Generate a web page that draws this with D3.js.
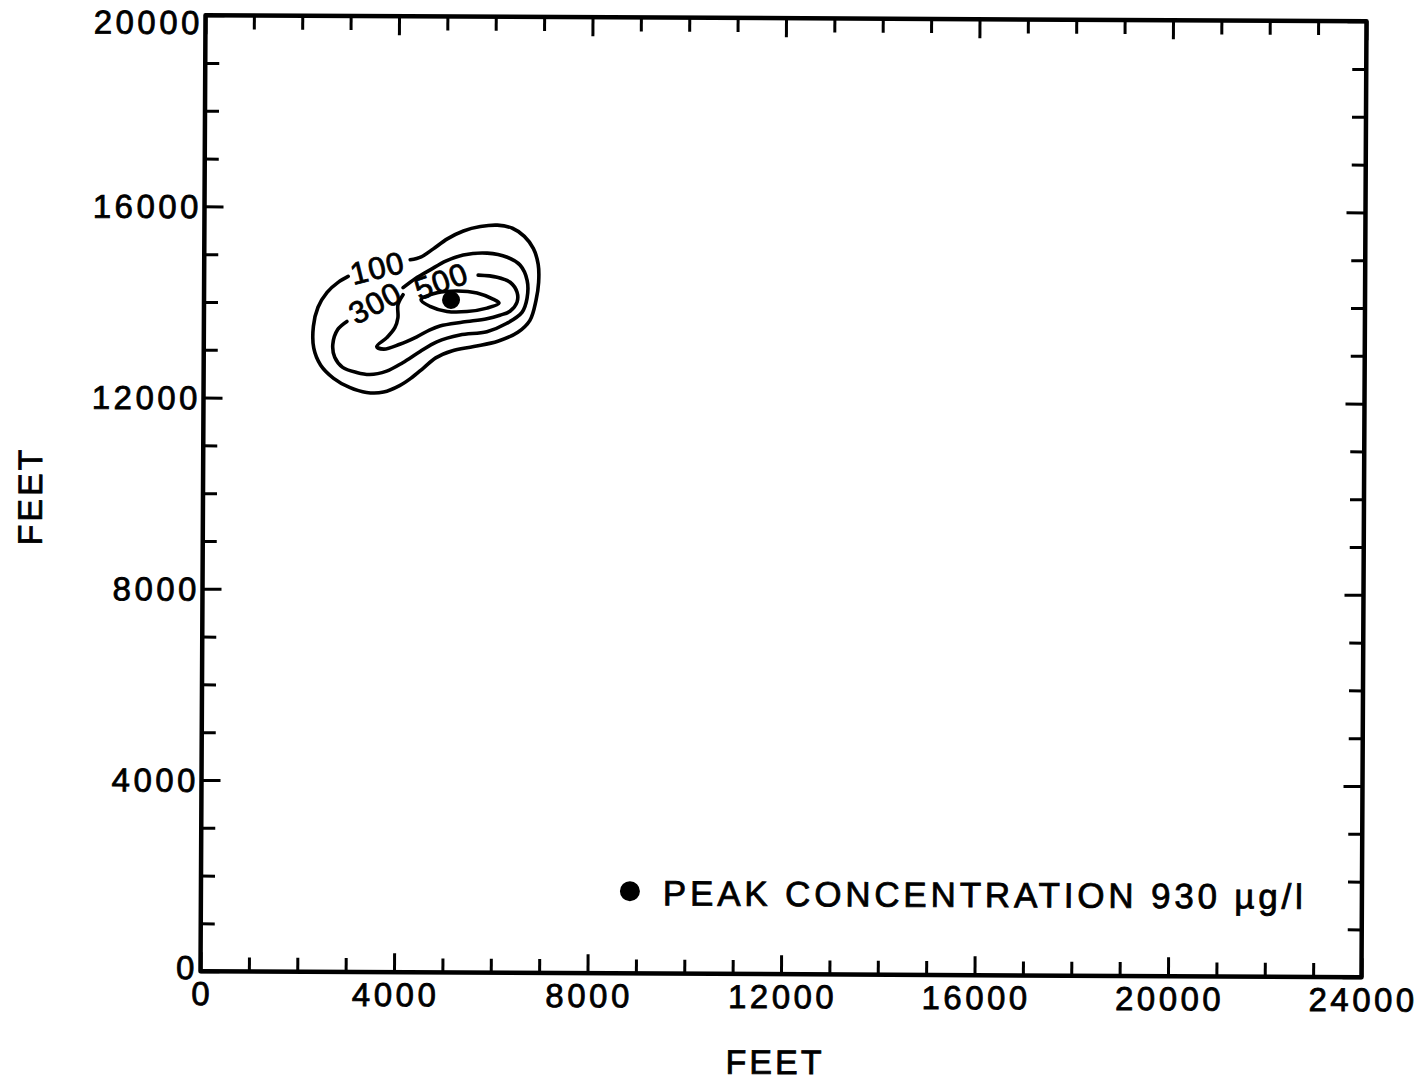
<!DOCTYPE html>
<html>
<head>
<meta charset="utf-8">
<script src="https://cdn.jsdelivr.net/npm/d3@7"></script>
<style>
  html, body { margin: 0; padding: 0; background: #fff; }
  text { font-family: "Liberation Sans", Arial, Helvetica, sans-serif; fill: #000; stroke: #000; stroke-width: 0.8px; }
</style>
</head>
<body>
<svg id="chart" width="1426" height="1082"></svg>
<script>
// Axis tick labels (feet)
const xTickLabels = [0, 4000, 8000, 12000, 16000, 20000, 24000];
const yTickLabels = [0, 4000, 8000, 12000, 16000, 20000];
const tickStep = 1000;

// Concentration contours, µg/l; points in feet [x, y]
const contour100 = [
  [4258,14906],[4486,14969],[4734,15136],[5023,15346],[5354,15513],[5705,15607],[6057,15639],
  [6367,15576],[6615,15408],[6801,15157],[6904,14823],[6915,14446],[6863,14069],[6739,13651],
  [6491,13400],[6078,13212],[5581,13097],[5127,13002],[4796,12856],[4548,12647],[4300,12438],
  [4052,12270],[3721,12134],[3370,12124],[3018,12228],[2687,12417],[2419,12689],[2274,13044],
  [2264,13504],[2357,13902],[2543,14216],[2770,14425],[2977,14551]
];
const contour300 = [
  [4114,14320],[4362,14509],[4672,14697],[5003,14885],[5354,15011],[5850,15053],[6264,14969],
  [6532,14802],[6677,14488],[6677,14111],[6574,13818],[6264,13588],[5850,13410],[5292,13337],
  [4817,13191],[4465,12982],[4114,12751],[3783,12574],[3432,12500],[3163,12542],[2873,12647],
  [2708,12856],[2667,13128],[2770,13442],[2956,13609]
];
const contour500 = [
  [5664,14592],[6057,14551],[6326,14446],[6470,14237],[6470,14028],[6326,13839],[6119,13756],
  [5850,13682],[5354,13609],[4879,13525],[4672,13442],[4403,13295],[4052,13138],[3721,13034],
  [3576,13086],[3783,13274],[3948,13483],[4010,13693],[4010,13965],[4114,14174]
];
const contourInner = [
  [4486,14069],[4817,14216],[5230,14258],[5643,14216],[5974,14090],[6098,14007],
  [5850,13902],[5437,13829],[5023,13829],[4672,13933]
];
// Contour labels: value, position (feet), text angle (deg)
const contourLabels = ["100", "300", "500"];
const contourLabelPos = [[3576,14739],[3535,14007],[4899,14467]];
const contourLabelAngle = [-14, -28, -20];

// Peak concentration location
const peak = [5106, 14069];
const peakValue = 930;
const legendText = `PEAK CONCENTRATION ${peakValue} µg/l`;

// ---- layout ----
const W = 1426, H = 1082;
const plot = { left: 203, right: 1364, top: 18.2, bottom: 974.2 };
const cx = 783.5, cy = 496.2, tilt = 0.3;
const minorLen = 14, majorLen = 19;

const svg = d3.select("#chart");
svg.append("rect").attr("width", W).attr("height", H).attr("fill", "#fff");
const g = svg.append("g").attr("transform", `rotate(${tilt},${cx},${cy})`);

const x = d3.scaleLinear().domain([0, 24000]).range([plot.left, plot.right]);
const y = d3.scaleLinear().domain([0, 20000]).range([plot.bottom, plot.top]);

const xAll = d3.range(0, 24000 + 1, tickStep);
const yAll = d3.range(0, 20000 + 1, tickStep);
const xMinor = xAll.filter(v => !xTickLabels.includes(v));
const yMinor = yAll.filter(v => !yTickLabels.includes(v));

function tickAxis(gen, scale, values, len, tr) {
  const a = g.append("g").attr("transform", tr)
    .call(gen(scale).tickValues(values).tickSize(-len).tickFormat(""));
  a.select(".domain").remove();
  a.selectAll(".tick line").attr("stroke", "#000").attr("stroke-width", 3);
  a.selectAll(".tick text").remove();
  return a;
}
// bottom / top
tickAxis(d3.axisBottom, x, xMinor, minorLen, `translate(0,${plot.bottom})`);
tickAxis(d3.axisBottom, x, xTickLabels, majorLen, `translate(0,${plot.bottom})`);
tickAxis(d3.axisTop, x, xMinor, minorLen, `translate(0,${plot.top})`);
tickAxis(d3.axisTop, x, xTickLabels, majorLen, `translate(0,${plot.top})`);
// left / right
tickAxis(d3.axisLeft, y, yMinor, minorLen, `translate(${plot.left},0)`);
tickAxis(d3.axisLeft, y, yTickLabels, majorLen, `translate(${plot.left},0)`);
tickAxis(d3.axisRight, y, yMinor, minorLen, `translate(${plot.right},0)`);
tickAxis(d3.axisRight, y, yTickLabels, majorLen, `translate(${plot.right},0)`);

// frame
g.append("rect")
  .attr("x", plot.left).attr("y", plot.top)
  .attr("width", plot.right - plot.left).attr("height", plot.bottom - plot.top)
  .attr("fill", "none").attr("stroke", "#000").attr("stroke-width", 4.5)
  .attr("stroke-linejoin", "round");

// tick labels
const tickFont = 33, tickSpacing = 3.5;
g.append("g").selectAll("text").data(xTickLabels).join("text")
  .attr("x", d => x(d) + tickSpacing / 2)
  .attr("y", plot.bottom + 34)
  .attr("text-anchor", "middle")
  .attr("font-size", tickFont)
  .attr("letter-spacing", tickSpacing)
  .text(d => d);

g.append("g").selectAll("text").data(yTickLabels).join("text")
  .attr("x", plot.left - 6 + tickSpacing)
  .attr("y", d => y(d) + (d === 20000 ? 7 : d === 0 ? -4 : 0))
  .attr("dy", "0.36em")
  .attr("text-anchor", "end")
  .attr("font-size", tickFont)
  .attr("letter-spacing", tickSpacing)
  .text(d => d);

// axis titles
g.append("text")
  .attr("x", 778).attr("y", 1074)
  .attr("text-anchor", "middle")
  .attr("font-size", 34).attr("letter-spacing", 3)
  .text("FEET");
g.append("text")
  .attr("transform", "translate(42,500) rotate(-90)")
  .attr("text-anchor", "middle")
  .attr("font-size", 34).attr("letter-spacing", 3)
  .text("FEET");

// contours
const line = d3.line().x(d => x(d[0])).y(d => y(d[1])).curve(d3.curveCatmullRom.alpha(0.5));
const closedLine = d3.line().x(d => x(d[0])).y(d => y(d[1])).curve(d3.curveCatmullRomClosed.alpha(0.5));
const contourStyle = sel => sel.attr("fill", "none").attr("stroke", "#000")
  .attr("stroke-width", 3.6).attr("stroke-linecap", "round").attr("stroke-linejoin", "round");

const cg = g.append("g");
[contour100, contour300, contour500].forEach(c => cg.append("path").attr("d", line(c)).call(contourStyle));
cg.append("path").attr("d", closedLine(contourInner)).call(contourStyle);

cg.selectAll("text.clabel").data(contourLabels).join("text")
  .attr("class", "clabel")
  .attr("transform", (d, i) => `translate(${x(contourLabelPos[i][0])},${y(contourLabelPos[i][1])}) rotate(${contourLabelAngle[i]})`)
  .attr("text-anchor", "middle")
  .attr("dy", "0.36em")
  .attr("font-size", 31)
  .attr("letter-spacing", 1)
  .text(d => d);

// peak marker
cg.append("circle").attr("cx", x(peak[0])).attr("cy", y(peak[1])).attr("r", 9).attr("fill", "#000");

// legend
const lg = g.append("g");
lg.append("circle").attr("cx", 632).attr("cy", 892).attr("r", 10).attr("fill", "#000");
lg.append("text")
  .attr("x", 665).attr("y", 906)
  .attr("font-size", 35)
  .attr("textLength", 640).attr("lengthAdjust", "spacing")
  .text(legendText);
</script>
</body>
</html>
